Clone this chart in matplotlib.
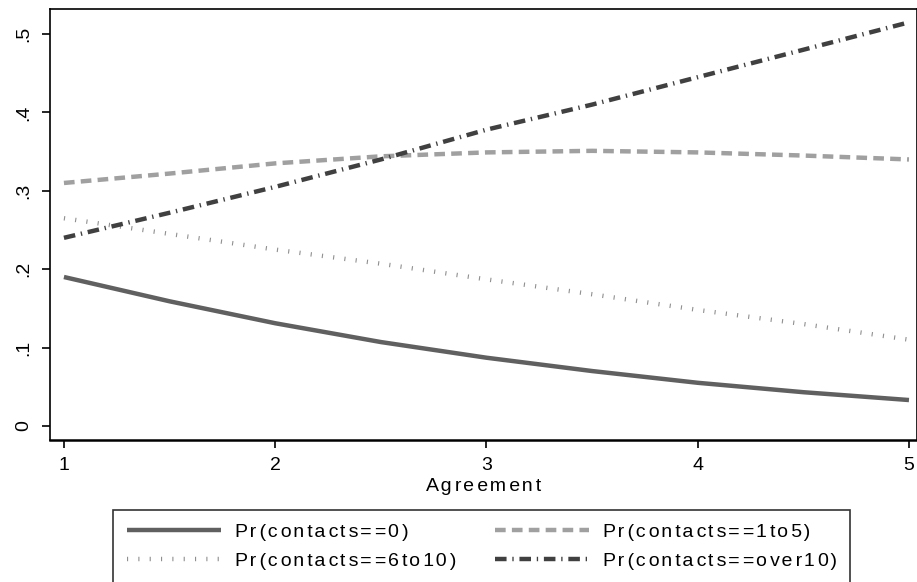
import matplotlib
matplotlib.use("Agg")
import matplotlib.pyplot as plt

plt.rcParams['font.family'] = ['Liberation Sans', 'DejaVu Sans']

# predicted probabilities by agreement score
agreement = [1, 1.5, 2, 2.5, 3, 3.5, 4, 4.5, 5]
pr_0 = [0.190, 0.159, 0.131, 0.107, 0.087, 0.070, 0.055, 0.043, 0.033]
pr_1to5 = [0.310, 0.322, 0.335, 0.344, 0.349, 0.351, 0.349, 0.345, 0.340]
pr_6to10 = [0.265, 0.245, 0.225, 0.207, 0.187, 0.168, 0.148, 0.130, 0.110]
pr_over10 = [0.240, 0.272, 0.305, 0.340, 0.378, 0.410, 0.445, 0.480, 0.515]

labels = ['Pr(contacts==0)', 'Pr(contacts==1to5)',
          'Pr(contacts==6to10)', 'Pr(contacts==over10)']


def spaced(s):
    # loose, slightly uneven letter spacing
    out = s[0]
    for i, ch in enumerate(s[1:]):
        out += '\u200a' * (1 + i % 2) + ch
    return out


fig = plt.figure(figsize=(9.17, 5.82), dpi=100)
ax = fig.add_axes([50 / 917, 142 / 582, 867 / 917, 431 / 582])

l0, = ax.plot(agreement, pr_0, color='#606060', lw=3.2, solid_capstyle='butt')
l1, = ax.plot(agreement, pr_1to5, color='#a0a0a0', lw=3.2,
              linestyle=(0, (2.4, 1.4)), dash_capstyle='butt')
l2, = ax.plot(agreement, pr_6to10, color='#8f8f8f', lw=3.2,
              linestyle=(0, (0.25, 2.3)), dash_capstyle='butt')
l3, = ax.plot(agreement, pr_over10, color='#404040', lw=3.2,
              linestyle=(0, (2.6, 1.3, 0.3, 1.3)), dash_capstyle='butt')

ax.set_xlim(0.934, 5.038)
ax.set_ylim(-0.018, 0.532)
ax.set_xticks([1, 2, 3, 4, 5])
ax.set_yticks([0, 0.1, 0.2, 0.3, 0.4, 0.5])
ax.set_yticklabels(['0', '.1', '.2', '.3', '.4', '.5'], rotation=90, va='center')
ax.tick_params(axis='both', direction='out', length=6, width=1.2, labelsize=14)
ax.tick_params(axis='x', pad=6)
ax.tick_params(axis='y', pad=7)
ax.set_xlabel(spaced('Agreement'), fontsize=14, labelpad=3)

for s in ax.spines.values():
    s.set_linewidth(1.2)
ax.spines['bottom'].set_linewidth(1.8)

# legend filled column-wise, so order handles to read row by row
leg = fig.legend([l0, l2, l1, l3], [spaced(t) for t in
                                    [labels[0], labels[2], labels[1], labels[3]]],
                 ncol=2, loc='upper left',
                 bbox_to_anchor=(113 / 917, 1 - 510 / 582),
                 frameon=True, fancybox=False, edgecolor='black',
                 fontsize=14, handlelength=4.85, handletextpad=0.7,
                 columnspacing=2.0, borderpad=0.7, labelspacing=0.55,
                 borderaxespad=0)
leg.get_frame().set_linewidth(1.2)

fig.savefig('out.png', dpi=100)
